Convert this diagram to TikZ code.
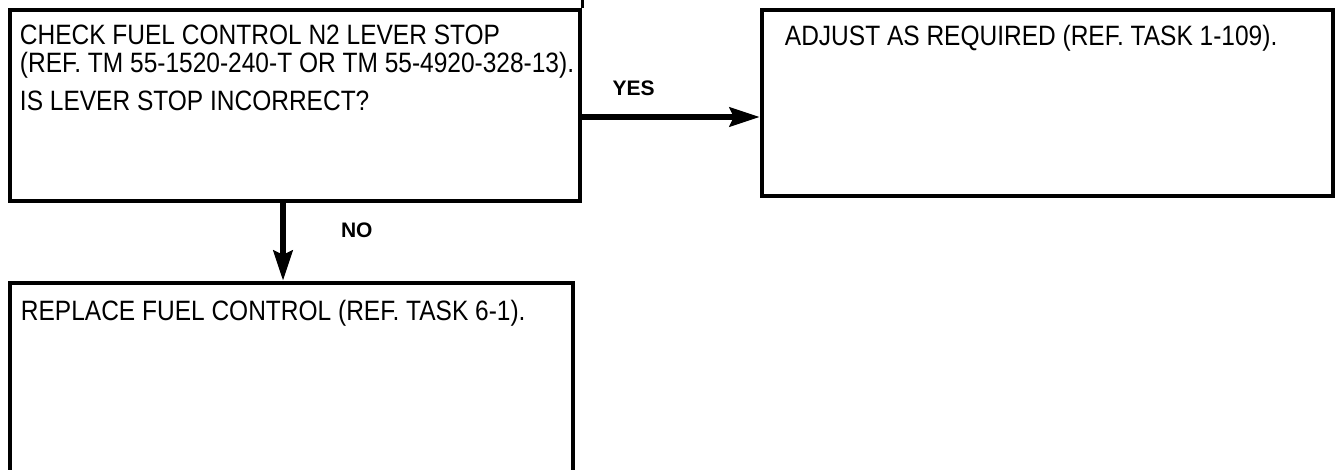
\documentclass[tikz,border=0pt]{standalone}
\usepackage{fontspec}
\setmainfont{Liberation Sans}[FakeStretch=0.875]
\newfontfamily\lblfont{Liberation Sans}
\usetikzlibrary{arrows.meta,positioning,calc}
\tikzset{
  blk/.style={draw, line width=4.5pt, rectangle, inner sep=0pt},
  txt/.style={anchor=north west, inner sep=0pt, align=left, font=\fontsize{28pt}{28.5pt}\selectfont},
  lbl/.style={inner sep=0pt, font=\lblfont\bfseries\fontsize{21pt}{22pt}\selectfont},
  arr/.style={-{Stealth[length=30pt, width=19pt, inset=4pt]}, line width=6pt},
}
\begin{document}
\begin{tikzpicture}[x=1pt, y=-1pt]
  \useasboundingbox (0,0) rectangle (1340,470);
  \clip (0,0) rectangle (1340,470);
  % boxes
  \node[blk, minimum width=570pt, minimum height=191pt] (check) at (295,105.5) {};
  \node[blk, minimum width=571pt, minimum height=186pt] (adjust) at (1047.5,103) {};
  \node[blk, minimum width=563pt, minimum height=260pt] (replace) at (291.5,413) {};
  \draw[line width=3pt] (check.north east) -- (check.north east |- 0,0);
  % texts
  \node[txt] (checktxt) at ($(check.north west)+(12,17)$)
    {CHECK FUEL CONTROL N2 LEVER STOP\\
     (REF. TM 55-1520-240-T OR TM 55-4920-328-13).\\[9pt]
     IS LEVER STOP INCORRECT?};
  \node[txt] (adjusttxt) at ($(adjust.north west)+(25,17)$) {ADJUST AS REQUIRED (REF. TASK 1-109).};
  \node[txt] (replacetxt) at ($(replace.north west)+(13,19)$) {REPLACE FUEL CONTROL (REF. TASK 6-1).};
  % connectors
  \coordinate (yesrow) at (0,117);
  \coordinate (nocol) at (283,0);
  \draw[arr] (check.east |- yesrow) -- (adjust.west |- yesrow)
    node[lbl, pos=0.29, above=18pt] (yes) {YES};
  \draw[arr] (check.south -| nocol) -- (replace.north -| nocol)
    node[lbl, pos=0.35, anchor=west, xshift=55pt] (no) {NO};
\end{tikzpicture}
\end{document}
